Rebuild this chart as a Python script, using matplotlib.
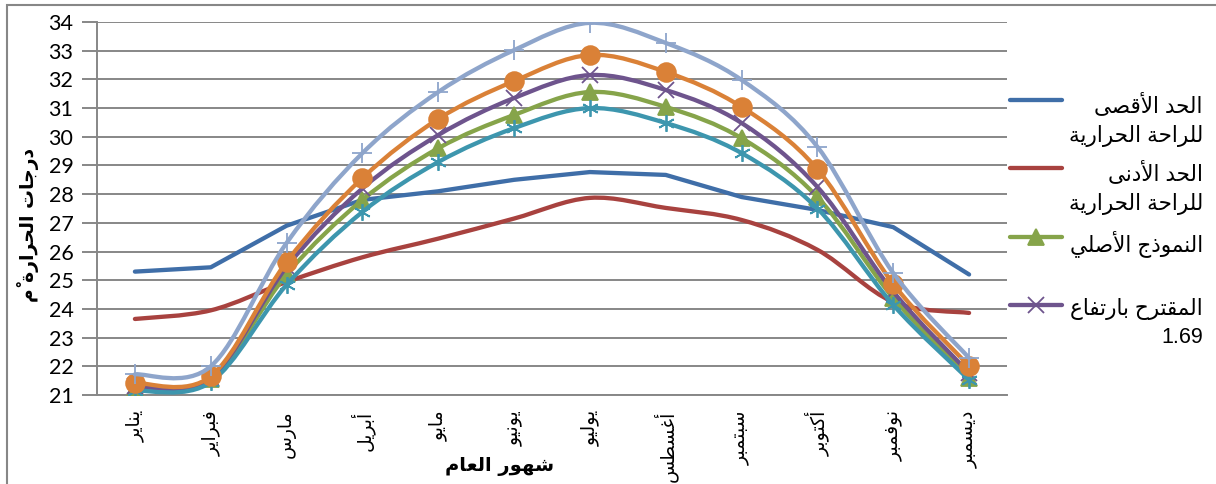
import numpy as np, matplotlib
matplotlib.use('Agg')
import matplotlib.pyplot as plt
from matplotlib.path import Path
from matplotlib.patches import PathPatch, Rectangle
from matplotlib.lines import Line2D

# ---- data ----
months = ['يناير','فبراير','مارس','أبريل','مايو','يونيو','يوليو','أغسطس','سبتمبر','أكتوبر','نوفمبر','ديسمبر']
t_max   = [25.3,25.45,26.9,27.8,28.1,28.5,28.77,28.67,27.9,27.45,26.85,25.2]
t_min   = [23.65,23.95,24.94,25.8,26.45,27.15,27.87,27.52,27.1,26.06,24.24,23.86]
t_orig  = [21.25,21.55,25.2,27.8,29.6,30.76,31.56,31.04,29.95,27.9,24.38,21.6]
t_p169  = [21.3,21.6,25.46,28.2,30.06,31.35,32.15,31.63,30.48,28.25,24.6,21.77]
t_cyan  = [21.15,21.45,24.84,27.38,29.12,30.3,31.0,30.48,29.43,27.5,24.14,21.53]
t_orng  = [21.42,21.65,25.64,28.56,30.62,31.94,32.85,32.26,31.04,28.87,24.87,22.01]
t_lblue = [21.72,22.0,26.3,29.43,31.56,33.02,33.97,33.27,31.98,29.65,25.25,22.29]
leg_labels = ['الحد الأقصى\nللراحة الحرارية','الحد الأدنى\nللراحة الحرارية','النموذج الأصلي','المقترح بارتفاع\n1.69']
xlab = 'شهور العام'
ylab = 'درجات الحرارة مْ'

BLUE='#3F6EA8'; RED='#A8423F'; GREEN='#86A44A'; PURPLE='#6E548D'
CYAN='#3D96AE'; ORANGE='#DA8137'; LBLUE='#8EA5CB'; GRID='#878787'

# ---- minimal arabic shaping (no reshaper lib available) ----
FORMS = {  # isolated, final  (one entry = dual joining: iso, fin, ini, med follow on)
 'ا':(0xFE8D,0xFE8E),'أ':(0xFE83,0xFE84),'إ':(0xFE87,0xFE88),'آ':(0xFE81,0xFE82),
 'د':(0xFEA9,0xFEAA),'ذ':(0xFEAB,0xFEAC),'ر':(0xFEAD,0xFEAE),'ز':(0xFEAF,0xFEB0),
 'و':(0xFEED,0xFEEE),'ة':(0xFE93,0xFE94),'ى':(0xFEEF,0xFEF0),
 'ب':(0xFE8F,),'ت':(0xFE95,),'ث':(0xFE99,),'ج':(0xFE9D,),'ح':(0xFEA1,),'خ':(0xFEA5,),
 'س':(0xFEB1,),'ش':(0xFEB5,),'ص':(0xFEB9,),'ض':(0xFEBD,),'ط':(0xFEC1,),'ظ':(0xFEC5,),
 'ع':(0xFEC9,),'غ':(0xFECD,),'ف':(0xFED1,),'ق':(0xFED5,),'ك':(0xFED9,),'ل':(0xFEDD,),
 'م':(0xFEE1,),'ن':(0xFEE5,),'ه':(0xFEE9,),'ي':(0xFEF1,),
 'لا':(0xFEFB,0xFEFC),'لأ':(0xFEF7,0xFEF8),'لإ':(0xFEF9,0xFEFA),'لآ':(0xFEF5,0xFEF6)}
MARKS = set('\u064B\u064C\u064D\u064E\u064F\u0650\u0651\u0652')

def shape_line(s):
    cl = []
    i = 0
    while i < len(s):
        c = s[i]
        if c in MARKS and cl:
            cl[-1][1] += c; i += 1; continue
        if c == 'ل' and i+1 < len(s) and s[i+1] in 'اأإآ':
            cl.append(['ل'+s[i+1], '']); i += 2; continue
        cl.append([c, '']); i += 1
    dual = lambda b: b in FORMS and len(FORMS[b]) == 1
    out = []
    for k,(b,m) in enumerate(cl):
        if b in FORMS:
            jp = k > 0 and dual(cl[k-1][0])
            jn = dual(b) and k+1 < len(cl) and cl[k+1][0] in FORMS
            f = FORMS[b]
            if len(f) == 1:
                g = f[0] + (3 if (jp and jn) else 1 if jp else 2 if jn else 0)
            else:
                g = f[1] if jp else f[0]
            out.append(chr(g) + m)
        else:
            out.append(b + m)
    if any(c[0] in FORMS for c in cl):
        out = out[::-1]
    return ''.join(out)

def ar(s):
    return '\n'.join(shape_line(l) for l in s.split('\n'))

# ---- smooth (bezier) line like excel ----
def smooth_path(x, y, t=1/6.):
    P = np.column_stack([x, y]).astype(float)
    n = len(P)
    verts = [P[0]]; codes = [Path.MOVETO]
    for i in range(n-1):
        p0 = P[i-1] if i > 0 else P[i]
        p3 = P[i+2] if i+2 < n else P[i+1]
        c1 = P[i] + (P[i+1]-p0)*t
        c2 = P[i+1] - (p3-P[i])*t
        verts += [c1, c2, P[i+1]]; codes += [Path.CURVE4]*3
    return Path(verts, codes)

W, H = 1216, 484
LW = 3.1
fig = plt.figure(figsize=(W/100, H/100), dpi=100)
fig.patches.append(Rectangle((7/W, -0.1), 1.2, 1-5/H+0.1, transform=fig.transFigure,
                             fill=False, ec=GRID, lw=1.5))
ax = fig.add_axes([97/W, 1-395/H, (1007-97)/W, (395-22)/H])
x = np.arange(len(months))

ax.plot(x, t_max, color=BLUE, lw=LW, solid_capstyle='round', solid_joinstyle='round', zorder=3)
series = [(t_min, RED, None, 0), (t_orig, GREEN, '^', 11), (t_p169, PURPLE, 'x', 11),
          (t_cyan, CYAN, (6, 2, 0), 12), (t_orng, ORANGE, 'o', 13.5), (t_lblue, LBLUE, '+', 15)]
for k,(vals, col, mk, ms) in enumerate(series):
    ax.add_patch(PathPatch(smooth_path(x, vals), fill=False, ec=col, lw=LW,
                           capstyle='round', zorder=4+k))
    if mk is not None:
        ax.plot(x, vals, ls='none', marker=mk, ms=ms, color=col, mec=col,
                mew=1.3, zorder=4+k)

ax.set_xlim(-0.5, 11.5); ax.set_ylim(21, 34)
ax.set_yticks(range(21, 35))
ax.yaxis.grid(True, color=GRID, lw=1.4)
ax.set_axisbelow(True)
for s in ['top', 'right']: ax.spines[s].set_visible(False)
for s in ['left', 'bottom']: ax.spines[s].set_color(GRID); ax.spines[s].set_linewidth(1.4)
ax.tick_params(axis='y', length=11, width=1.4, color=GRID, pad=6, labelsize=15.5)
for t in ax.get_yticklabels(): t.set_family('Lato')
ax.set_xticks(x)
ax.set_xticklabels([ar(m) for m in months], rotation=90, fontsize=13.5,
                   family='DejaVu Sans', va='top')
ax.tick_params(axis='x', length=0, pad=11)

fig.text(500/W, 1-466/H, ar(xlab), ha='center', va='center', fontsize=14,
         fontweight='bold', family='DejaVu Sans')
fig.text(28/W, 1-225/H, ar(ylab), ha='center', va='center', rotation=90, fontsize=13.5,
         fontweight='bold', family='DejaVu Sans')

# ---- legend (drawn by hand, entries clipped at the right edge like the source) ----
leg = [(BLUE, None, 0), (RED, None, 0), (GREEN, '^', 11), (PURPLE, 'x', 11)]
for k,((col, mk, ms), lab) in enumerate(zip(leg, leg_labels)):
    yy = 1-(100+68.3*k)/H
    fig.add_artist(Line2D([1010/W, 1062/W], [yy, yy], color=col, lw=LW,
                          solid_capstyle='round', transform=fig.transFigure))
    if mk:
        fig.add_artist(Line2D([1036/W], [yy], marker=mk, ms=ms, color=col, mew=1.3,
                              transform=fig.transFigure))
    fig.text(1203/W, yy+7/H, ar(lab), ha='right', va='top', fontsize=15.5,
             family=['Liberation Sans', 'DejaVu Sans'], linespacing=1.45,
             transform=fig.transFigure)

fig.savefig('out.png', dpi=100)
